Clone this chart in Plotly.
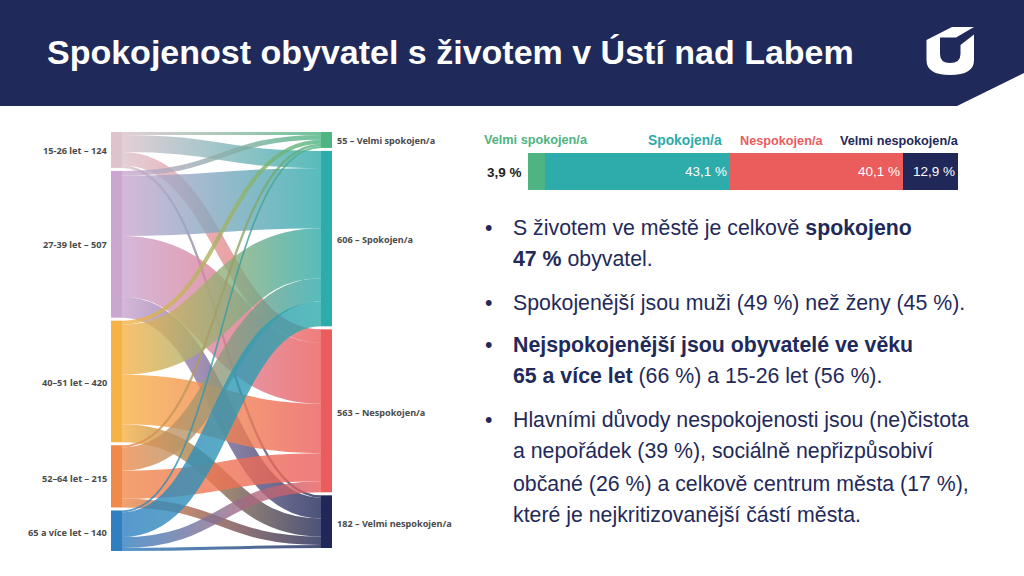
import plotly.graph_objects as go

W, H = 1024, 576
NAVY = "#1f2a5a"

# Sankey data
age_labels = ["15-26 let – 124", "27-39 let – 507", "40–51 let – 420", "52–64 let – 215", "65 a více let – 140"]
sat_labels = ["55 – Velmi spokojen/a", "606 – Spokojen/a", "563 – Nespokojen/a", "182 – Velmi nespokojen/a"]
age_colors = ["#ddc3cc", "#cba6d0", "#f7b246", "#f08a4b", "#2f7fc1"]
sat_colors = ["#4db482", "#2eabab", "#eb5c5c", "#1f2858"]
age_totals = [124, 507, 420, 215, 140]
sat_totals = [55, 606, 563, 182]

# rows = age groups
to_velmi_spokojen = [10, 17, 14, 8, 6]
to_spokojen = [59, 208, 173, 80, 86]
to_nespokojen = [47, 210, 171, 97, 38]
to_velmi_nespokojen = [8, 72, 62, 30, 10]

# Top bar
bar_names = ["Velmi spokojen/a", "Spokojen/a", "Nespokojen/a", "Velmi nespokojen/a"]
bar_values = [3.9, 43.1, 40.1, 12.9]
bar_texts = ["", "43,1 %", "40,1 %", "12,9 %"]

title_text = "Spokojenost obyvatel s životem v Ústí nad Labem"
bullet_lines = [
    "S životem ve městě je celkově <b>spokojeno</b>",
    "<b>47 %</b> obyvatel.",
    "Spokojenější jsou muži (49 %) než ženy (45 %).",
    "<b>Nejspokojenější jsou obyvatelé ve věku</b>",
    "<b>65 a více let</b> (66 %) a 15-26 let (56 %).",
    "Hlavními důvody nespokojenosti jsou (ne)čistota",
    "a nepořádek (39 %), sociálně nepřizpůsobiví",
    "občané (26 %) a celkově centrum města (17 %),",
    "které je nejkritizovanější částí města.",
]

SANKEY_X0, SANKEY_X1 = 111, 332
SANKEY_Y0, SANKEY_Y1 = 132, 551
NODE_W, NODE_PAD = 11, 3


def px(x):
    return x / W


def py(y):
    return 1 - y / H


def note(x, y, text, size, color, anchor="left", family="Liberation Sans"):
    fig.add_annotation(x=px(x), y=py(y), xref="paper", yref="paper", text=text, showarrow=False,
                       xanchor=anchor, yanchor="middle", align=anchor, borderpad=0,
                       font=dict(family=family, size=size, color=color))


def node_centres(totals):
    # same scale the sankey uses, so the columns stay in the reference order
    box = SANKEY_Y1 - SANKEY_Y0
    k = (box - (len(age_totals) - 1) * NODE_PAD) / sum(age_totals)
    out, top = [], 0
    for t in totals:
        out.append((top + t * k / 2) / box)
        top += t * k + NODE_PAD
    return out


# by source, so the older groups end up drawn on top as in the reference
flows = [to_velmi_spokojen, to_spokojen, to_nespokojen, to_velmi_nespokojen]
sources, targets, values = [], [], []
for row in range(len(age_labels)):
    for col, flow in enumerate(flows):
        sources.append(row)
        targets.append(5 + col)
        values.append(flow[row])

edge = NODE_W / 2 / (SANKEY_X1 - SANKEY_X0)

fig = go.Figure()

fig.add_trace(go.Sankey(
    domain=dict(x=[px(SANKEY_X0), px(SANKEY_X1)], y=[py(SANKEY_Y1), py(SANKEY_Y0)]),
    arrangement="fixed",
    textfont=dict(size=1),
    node=dict(label=[""] * 9, color=age_colors + sat_colors, thickness=NODE_W, pad=NODE_PAD,
              x=[edge] * 5 + [1 - edge] * 4, y=node_centres(age_totals) + node_centres(sat_totals),
              line=dict(width=0), hoverinfo="skip"),
    link=dict(source=sources, target=targets, value=values, color="rgba(120,120,120,0.8)", hoverinfo="skip"),
))

for name, v, t, c in zip(bar_names, bar_values, bar_texts, sat_colors):
    fig.add_trace(go.Bar(y=[""], x=[v], name=name, orientation="h", marker=dict(color=c, line=dict(width=0)),
                         text=[t], textposition="inside", insidetextanchor="end", textangle=0,
                         textfont=dict(family="Liberation Sans", size=13.5, color="white"),
                         cliponaxis=False, hoverinfo="skip"))

fig.update_layout(
    width=W, height=H, margin=dict(l=0, r=0, t=0, b=0, pad=0),
    paper_bgcolor="white", plot_bgcolor="white", showlegend=False,
    barmode="stack", bargap=0,
    xaxis=dict(domain=[px(528), px(958)], range=[0, 100], visible=False, fixedrange=True),
    yaxis=dict(domain=[py(190), py(153)], visible=False, fixedrange=True),
    shapes=[
        # header with the cut corner
        dict(type="path", xref="paper", yref="paper", line=dict(width=0), fillcolor=NAVY, layer="below",
             path=f"M 0 1 L 1 1 L 1 {py(73)} L {px(957)} {py(106)} L 0 {py(106)} Z"),
        # logo
        dict(type="path", xref="paper", yref="paper", line=dict(width=0), fillcolor="white", layer="above",
             path=" ".join([
                 f"M {px(926.5)} {py(40)} L {px(952)} {py(27)} L {px(974)} {py(27)} L {px(956)} {py(37.5)}",
                 f"L {px(940)} {py(37.5)} L {px(940)} {py(54)} Q {px(940)} {py(63)} {px(950)} {py(63)}",
                 f"Q {px(960.5)} {py(63)} {px(960.5)} {py(54)} L {px(960.5)} {py(45)} L {px(974)} {py(34.5)}",
                 f"L {px(974)} {py(60)} Q {px(974)} {py(75)} {px(950)} {py(75)}",
                 f"Q {px(926.5)} {py(75)} {px(926.5)} {py(60)} Z",
             ])),
    ],
)

note(45.5, 52, f"<b>{title_text}</b>", 34, "white")

# sankey labels
for y, t in zip([150, 244, 382, 478, 532], age_labels):
    note(107.5, y, f"<b>{t}</b>", 9.2, "#4a4a4a", anchor="right", family="Noto Sans")
for y, t in zip([140, 239, 412, 523], sat_labels):
    note(336, y, f"<b>{t}</b>", 9.1, "#4a4a4a", family="Noto Sans")

# bar headers
note(483, 140, "<b>Velmi spokojen/a</b>", 12.7, sat_colors[0])
note(646.5, 140, "<b>Spokojen/a</b>", 13.8, sat_colors[1])
note(738.5, 141, "<b>Nespokojen/a</b>", 12.7, sat_colors[2])
note(838.5, 141, "<b>Velmi nespokojen/a</b>", 12.7, sat_colors[3])
note(504, 172, "<b>3,9 %</b>", 13.5, "#222222", anchor="center")

# text block
for y in [228, 303, 345, 420]:
    note(488, y, "•", 21.3, NAVY, anchor="center")
for y, line in zip([228, 259, 303, 345, 376, 420, 451, 484, 515], bullet_lines):
    note(511.5, y, line, 21.3, NAVY)

# plotly sankey has no gradient links and its ribbons keep a constant vertical width,
# so redraw each link from its own layout as a stroked curve with a source -> target gradient
post = """
document.body.style.margin = '0';
var gd = document.getElementById('{plot_id}');
var NS = 'http://www.w3.org/2000/svg';
function paintLinks() {
    var svg = gd.querySelector('.main-svg');
    var defs = svg.querySelector('defs');
    gd.querySelectorAll('.sankey-link').forEach(function (el, i) {
        var d = el.__data__;
        var l = d.link;
        var x0 = l.source.x1, x1 = l.target.x0, xm = (x0 + x1) / 2;
        var id = 'linkgrad' + i;
        var g = document.getElementById(id);
        if (!g) {
            g = document.createElementNS(NS, 'linearGradient');
            g.setAttribute('id', id);
            g.setAttribute('gradientUnits', 'userSpaceOnUse');
            g.setAttribute('x1', x0);
            g.setAttribute('x2', x1);
            g.setAttribute('y1', 0);
            g.setAttribute('y2', 0);
            [[0, l.source.color], [1, l.target.color]].forEach(function (s) {
                var stop = document.createElementNS(NS, 'stop');
                stop.setAttribute('offset', s[0]);
                stop.setAttribute('stop-color', s[1]);
                g.appendChild(stop);
            });
            defs.appendChild(g);
        }
        el.setAttribute('d', 'M' + x0 + ',' + l.y0 + 'C' + xm + ',' + l.y0 + ' ' + xm + ',' + l.y1 + ' ' + x1 + ',' + l.y1);
        el.style.fill = 'none';
        el.style.stroke = 'url(#' + id + ')';
        el.style.strokeWidth = l.width + 'px';
        el.style.strokeOpacity = 0.8;
    });
}
paintLinks();
gd.on('plotly_afterplot', paintLinks);
"""

fig.write_html("out.html", post_script=post, config=dict(displayModeBar=False))
